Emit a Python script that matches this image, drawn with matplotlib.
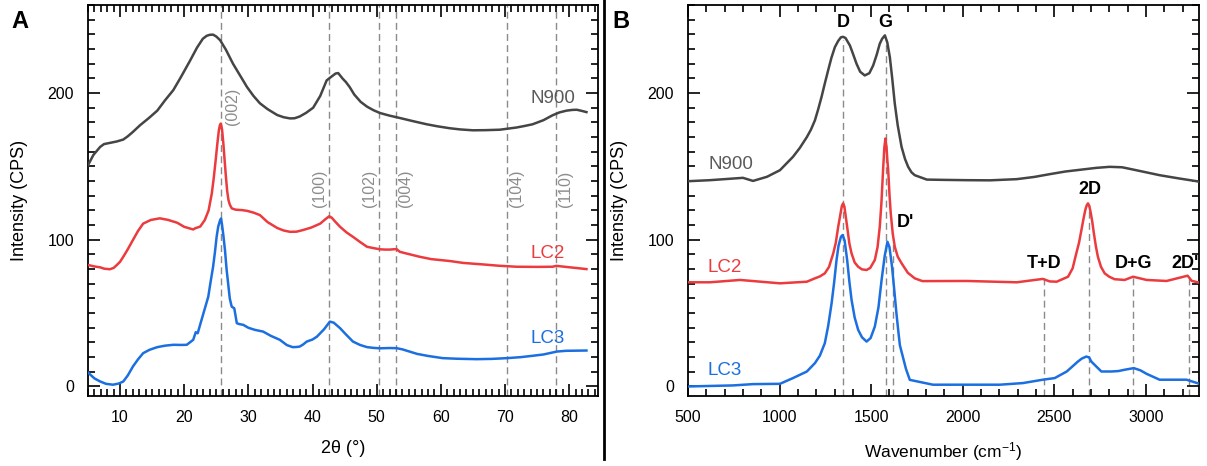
import matplotlib
matplotlib.use('Agg')
import matplotlib.pyplot as plt
from matplotlib.ticker import MultipleLocator
from matplotlib.lines import Line2D

plt.rcParams['font.family'] = ['Liberation Sans', 'DejaVu Sans']
plt.rcParams['mathtext.fontset'] = 'custom'
plt.rcParams['mathtext.rm'] = 'Liberation Sans'
plt.rcParams['mathtext.it'] = 'Liberation Sans:italic'

# ---------------- Panel A: XRD ----------------
xrd_n900_x = [5.0, 5.84, 6.9, 7.5, 8.4, 9.5, 10.5, 11.2, 12.0, 13.1, 14.5, 15.8, 17.0, 18.3,
              19.5, 20.9, 22.0, 22.9, 23.5, 24.0, 24.5, 25.0, 25.6, 26.5, 27.6, 28.7, 29.8,
              30.8, 31.8, 33.0, 34.5, 35.5, 36.5, 37.2, 38.0, 39.0, 40.1, 41.2, 42.2, 42.6,
              43.2, 43.6, 44.0, 44.7, 45.2, 45.8, 46.5, 47.5, 48.5, 49.5, 50.5, 52.0, 53.6,
              55.5, 57.8, 59.5, 61.4, 63.0, 65.0, 67.0, 69.2, 71.8, 73.0, 74.3, 76.0, 77.4,
              78.5, 79.6, 80.5, 81.2, 82.0, 82.7]
xrd_n900_y = [150.8, 157.8, 163.3, 165.2, 166.0, 167.0, 168.3, 170.5, 173.5, 178.0, 183.0,
              188.0, 195.0, 202.0, 211.0, 222.0, 231.0, 237.0, 239.0, 239.7, 239.8, 238.5,
              236.0, 229.5, 220.0, 212.0, 204.0, 198.0, 193.0, 189.0, 185.0, 183.5, 182.7,
              182.8, 184.0, 186.5, 190.0, 198.0, 208.6, 210.0, 212.0, 213.3, 213.6, 209.8,
              207.5, 204.0, 199.0, 194.0, 190.7, 188.3, 186.4, 184.6, 183.0, 181.0, 178.7,
              177.3, 176.0, 175.2, 174.6, 174.7, 175.0, 176.5, 177.5, 178.7, 181.5, 184.8,
              186.8, 188.0, 188.5, 188.6, 187.8, 187.0]

xrd_lc2_x = [5.0, 6.0, 6.9, 7.5, 8.4, 9.0, 9.5, 10.0, 10.5, 11.2, 12.0, 12.8, 13.6, 14.8,
             16.2, 17.5, 18.9, 20.0, 21.4, 21.7, 22.5, 23.2, 23.8, 24.3, 24.6, 24.9, 25.15,
             25.4, 25.55, 25.7, 25.9, 26.1, 26.3, 26.5, 26.7, 26.9, 27.1, 27.4, 28.0, 29.0,
             29.8, 30.8, 31.8, 33.0, 34.5, 35.5, 36.5, 37.5, 38.5, 39.8, 41.2, 42.0, 42.6,
             43.0, 43.5, 44.3, 45.3, 46.3, 47.4, 48.5, 49.5, 50.5, 51.3, 52.1, 52.6, 53.1,
             53.6, 54.3, 56.7, 58.5, 61.4, 63.5, 66.5, 69.0, 71.8, 75.0, 77.4, 78.0, 82.7]
xrd_lc2_y = [82.8, 81.8, 81.2, 80.3, 79.9, 80.8, 82.8, 85.0, 88.4, 93.5, 99.8, 106.0, 111.0,
             113.5, 114.6, 113.5, 111.6, 108.8, 107.0, 107.8, 109.0, 113.4, 120.0, 131.6,
             142.0, 154.2, 165.0, 174.6, 178.0, 179.2, 175.0, 165.6, 154.0, 142.9, 133.0,
             127.0, 124.0, 121.4, 120.5, 120.2, 119.7, 118.5, 116.8, 112.0, 108.0, 106.3,
             105.4, 105.5, 106.6, 108.3, 111.0, 114.0, 116.0, 115.0, 112.5, 108.8, 105.0,
             102.0, 98.5, 95.2, 94.3, 93.5, 93.3, 93.3, 93.5, 93.6, 91.8, 91.0, 88.4, 86.8,
             85.5, 84.2, 83.2, 82.3, 81.6, 81.5, 81.6, 82.2, 80.0]

xrd_lc3_x = [5.0, 6.0, 6.9, 7.8, 8.9, 9.8, 10.5, 11.2, 12.0, 12.8, 13.6, 14.6, 15.8, 17.0,
             18.3, 19.5, 20.4, 21.4, 21.8, 22.1, 22.7, 23.75, 24.1, 24.5, 24.8, 25.05, 25.3,
             25.6, 25.75, 25.9, 26.1, 26.35, 26.6, 26.9, 27.1, 27.4, 27.8, 28.2, 28.6, 29.2,
             30.0, 31.0, 32.3, 33.5, 34.9, 36.0, 36.9, 37.5, 38.0, 38.5, 39.1, 40.0, 40.7,
             41.8, 42.7, 43.3, 44.3, 45.2, 46.3, 47.4, 48.5, 49.5, 50.5, 52.0, 53.1, 54.0,
             56.3, 58.0, 60.3, 62.5, 65.6, 68.0, 70.3, 72.5, 74.3, 76.0, 78.1, 79.5, 82.7]
xrd_lc3_y = [9.5, 5.5, 3.4, 1.8, 1.2, 2.0, 3.4, 7.5, 13.6, 18.5, 22.7, 25.0, 26.8, 27.8,
             28.4, 28.3, 28.4, 31.8, 37.0, 36.3, 45.4, 61.2, 71.0, 81.6, 92.0, 102.0, 109.0,
             113.4, 114.5, 110.0, 103.0, 93.0, 80.0, 68.0, 60.0, 54.4, 53.3, 43.1, 42.5, 42.0,
             40.0, 38.6, 37.4, 34.5, 31.8, 28.2, 26.8, 26.9, 27.2, 28.5, 30.6, 32.0, 34.0,
             39.0, 44.2, 43.5, 39.7, 35.5, 30.6, 28.3, 26.8, 26.3, 26.0, 26.2, 26.1, 25.3,
             22.2, 20.8, 19.3, 18.9, 18.6, 18.8, 19.3, 20.0, 20.9, 21.8, 23.8, 24.3, 24.5]

xrd_ref_pos = [25.75, 42.6, 50.4, 53.05, 70.3, 78.0]
xrd_ref_lbl = ['(002)', '(100)', '(102)', '(004)', '(104)', '(110)']

# ---------------- Panel B: Raman ----------------
ram_n900_x = [500, 620, 800, 855, 931, 1002, 1073, 1110, 1149, 1171, 1193, 1211, 1229, 1247,
              1265, 1283, 1302, 1320, 1335, 1347, 1360, 1384, 1400, 1420, 1440, 1465, 1490,
              1511, 1530, 1547, 1560, 1575, 1588, 1602, 1615, 1629, 1645, 1666, 1685, 1702,
              1720, 1738, 1804, 1900, 2022, 2150, 2295, 2390, 2475, 2560, 2655, 2730, 2802,
              2870, 2928, 3000, 3075, 3180, 3277, 3290]
ram_n900_y = [139.9, 140.6, 142.2, 140.1, 142.9, 147.4, 156.5, 162.5, 170.0, 175.0, 181.4,
              189.0, 197.3, 206.5, 215.4, 224.0, 231.3, 235.5, 238.0, 238.3, 237.5, 232.4,
              227.0, 220.0, 214.5, 212.0, 213.5, 218.8, 226.0, 233.6, 237.0, 239.3, 234.5,
              224.5, 210.0, 192.8, 178.0, 163.3, 155.0, 149.7, 146.0, 144.0, 141.0, 140.8,
              140.6, 140.5, 141.3, 142.8, 144.7, 146.5, 147.9, 149.0, 149.7, 149.4, 147.9,
              146.0, 144.0, 141.8, 139.9, 139.5]

ram_lc2_x = [500, 620, 784, 1002, 1149, 1193, 1220, 1247, 1270, 1293, 1307, 1320, 1333, 1340,
             1347, 1354, 1360, 1369, 1381, 1393, 1410, 1429, 1450, 1475, 1495, 1520, 1535,
             1547, 1556, 1565, 1572, 1578, 1584, 1588, 1593, 1600, 1607, 1618, 1629, 1645,
             1666, 1700, 1738, 1780, 2022, 2295, 2437, 2475, 2513, 2575, 2600, 2620, 2635,
             2648, 2659, 2669, 2677, 2684, 2691, 2698, 2707, 2716, 2727, 2738, 2755, 2775,
             2800, 2829, 2884, 2930, 3004, 3113, 3228, 3250, 3293]
ram_lc2_y = [71.0, 71.0, 72.6, 70.3, 71.4, 73.7, 75.0, 77.1, 81.5, 90.7, 98.0, 108.8, 118.0,
             123.0, 124.8, 122.5, 117.0, 108.8, 97.5, 90.7, 84.5, 81.6, 79.8, 79.4, 80.8,
             86.2, 95.0, 108.8, 125.0, 147.4, 163.0, 169.0, 163.0, 155.0, 147.4, 131.0,
             118.0, 104.0, 95.2, 88.5, 84.0, 77.5, 73.7, 71.8, 71.9, 71.0, 73.3, 71.6, 71.4,
             74.8, 80.5, 90.7, 98.0, 106.6, 114.0, 120.2, 123.5, 124.8, 123.0, 119.0, 112.5,
             104.4, 95.5, 88.4, 81.5, 77.1, 74.8, 73.1, 72.6, 74.8, 72.6, 71.9, 75.5, 72.0,
             70.7]

ram_lc3_x = [500, 745, 855, 1002, 1073, 1149, 1193, 1220, 1247, 1265, 1284, 1298, 1311, 1322,
             1335, 1344, 1355, 1369, 1381, 1393, 1410, 1429, 1450, 1475, 1497, 1520, 1540,
             1557, 1574, 1589, 1600, 1614, 1626, 1638, 1648, 1657, 1690, 1711, 1837, 2202,
             2328, 2437, 2502, 2568, 2629, 2650, 2675, 2690, 2702, 2730, 2757, 2811, 2850,
             2884, 2934, 2970, 3004, 3075, 3222, 3293]
ram_lc3_y = [0.0, 0.7, 1.6, 1.8, 5.7, 10.2, 15.9, 21.0, 29.5, 41.0, 56.7, 71.0, 86.2, 96.0,
             102.0, 103.2, 99.5, 86.2, 71.5, 59.0, 47.0, 38.6, 33.5, 30.6, 33.0, 40.8, 54.0,
             72.6, 89.0, 98.6, 95.0, 81.6, 66.0, 49.9, 38.0, 28.0, 12.0, 4.5, 1.2, 1.2, 2.3,
             4.6, 5.7, 10.2, 17.0, 19.0, 20.4, 19.8, 17.0, 13.5, 10.2, 10.2, 10.5, 11.4, 12.5,
             11.0, 8.6, 4.6, 4.6, 1.8]

ram_band_pos = [1347, 1580, 1620, 2442, 2688, 2930, 3235]
ram_band_top = [236, 236, 100, 74, 124, 75, 75]
ram_band_lbl = ['D', 'G', "D'", 'T+D', '2D', 'D+G', "2D'"]

C_GRAY = '#454545'
C_RED = '#ec3b3e'
C_BLUE = '#1b6fe0'
C_DASH = '#8a8a8a'

fig = plt.figure(figsize=(12.07, 4.66), dpi=100)
axA = fig.add_axes([88 / 1207, 70 / 466, 510 / 1207, 391 / 466])
axB = fig.add_axes([688 / 1207, 70 / 466, 511 / 1207, 391 / 466])


def style(ax):
    for s in ax.spines.values():
        s.set_linewidth(1.3)
    ax.tick_params(which='both', direction='in', top=True, right=True, width=1.2,
                   labelsize=11.5, pad=10, colors='black')
    ax.tick_params(which='major', length=8.5)
    ax.tick_params(which='minor', length=5)
    ax.yaxis.set_major_locator(MultipleLocator(100))
    ax.yaxis.set_minor_locator(MultipleLocator(10))
    ax.set_ylim(-6.5, 260)
    ax.set_ylabel('Intensity (CPS)', fontsize=13)
    ax.yaxis.set_label_coords(-0.118, 0.5)


style(axA)
style(axB)

# Panel A
lw = 1.8
axA.plot(xrd_n900_x, xrd_n900_y, color=C_GRAY, lw=lw, zorder=3)
axA.plot(xrd_lc2_x, xrd_lc2_y, color=C_RED, lw=lw, zorder=3)
axA.plot(xrd_lc3_x, xrd_lc3_y, color=C_BLUE, lw=lw, zorder=3)
for p in xrd_ref_pos:
    axA.axvline(p, color=C_DASH, ls=(0, (5, 3)), lw=1.0, zorder=1)
hkl_side = [0.55, -0.3, -0.3, 0.3, 0.25, 0.3]
hkl_y = [191, 135, 135, 135, 135, 135]
for p, lbl, dx, yy in zip(xrd_ref_pos, xrd_ref_lbl, hkl_side, hkl_y):
    axA.text(p + dx, yy, lbl, rotation=90, color='#8c8c8c', fontsize=11.5,
             ha='left' if dx > 0 else 'right', va='center', zorder=4)
axA.set_xlim(5, 84.5)
axA.xaxis.set_major_locator(MultipleLocator(10))
axA.xaxis.set_minor_locator(MultipleLocator(1))
axA.set_xlabel('2θ (°)', fontsize=13)
axA.xaxis.set_label_coords(0.5, -0.112)
axA.text(77.5, 196, 'N900', color='#5a5a5a', fontsize=13.5, ha='center', va='center')
axA.text(76.6, 90.6, 'LC2', color=C_RED, fontsize=13.5, ha='center', va='center')
axA.text(76.6, 32.8, 'LC3', color=C_BLUE, fontsize=13.5, ha='center', va='center')

# Panel B
axB.plot(ram_n900_x, ram_n900_y, color=C_GRAY, lw=lw, zorder=3)
axB.plot(ram_lc2_x, ram_lc2_y, color=C_RED, lw=lw, zorder=3)
axB.plot(ram_lc3_x, ram_lc3_y, color=C_BLUE, lw=lw, zorder=3)
axB.vlines(ram_band_pos, -6.5, ram_band_top, color=C_DASH, linestyles=[(0, (5, 3))],
           lw=1.0, zorder=1)
lbl_pos = [(1347, 248, 'center'), (1575, 248, 'center'), (1640, 112, 'left'),
           (2445, 84, 'center'), (2693, 134, 'center'), (2933, 84, 'center'),
           (3140, 84, 'left')]
for (x, y, ha), lbl in zip(lbl_pos, ram_band_lbl):
    axB.text(x, y, lbl, fontsize=13, fontweight='bold', ha=ha, va='center', zorder=4,
             clip_on=True)
axB.set_xlim(500, 3290)
axB.xaxis.set_major_locator(MultipleLocator(500))
axB.xaxis.set_minor_locator(MultipleLocator(100))
axB.set_xlabel('Wavenumber (cm$^{-1}$)', fontsize=12.5)
axB.xaxis.set_label_coords(0.5, -0.112)
axB.text(732, 151, 'N900', color='#5a5a5a', fontsize=13.5, ha='center', va='center')
axB.text(702, 81, 'LC2', color=C_RED, fontsize=13.5, ha='center', va='center')
axB.text(702, 11, 'LC3', color=C_BLUE, fontsize=13.5, ha='center', va='center')

# panel letters and divider
fig.text(20 / 1207, 1 - 22 / 466, 'A', fontsize=17, fontweight='bold', ha='center', va='center')
fig.text(621 / 1207, 1 - 22 / 466, 'B', fontsize=17, fontweight='bold', ha='center', va='center')
fig.add_artist(Line2D([603.5 / 1207, 603.5 / 1207], [7 / 466, 1.0], color='black', lw=2.0))

fig.savefig('out.png', dpi=100)
